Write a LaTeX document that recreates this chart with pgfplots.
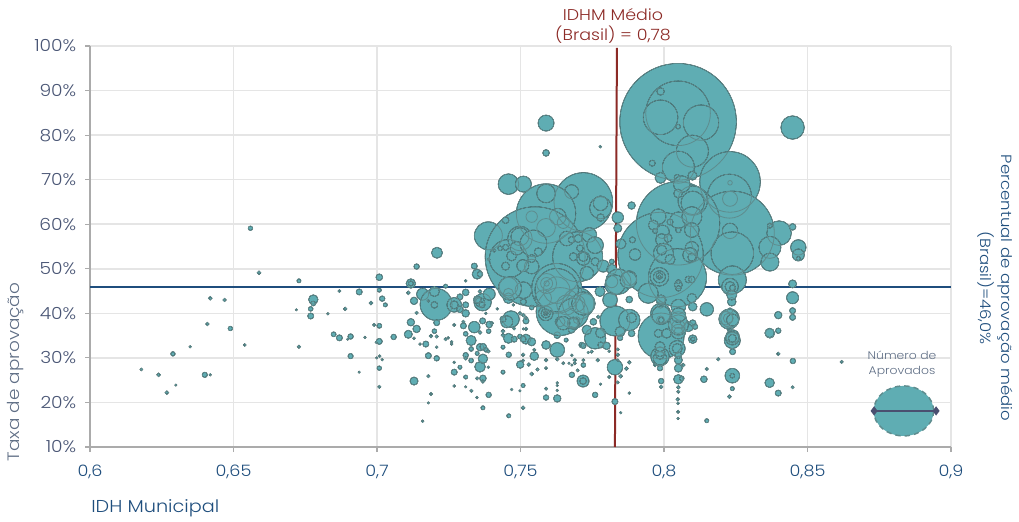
\documentclass[border=0pt]{standalone}
\usepackage{fontspec}
\setmainfont{Poppins Light}[FakeStretch=1.12]
\usepackage{pgfplots}
\usepackage{pgfplotstable}
\pgfplotsset{compat=1.18}
\definecolor{bub}{HTML}{5FADB3}
\definecolor{bubline}{HTML}{5E8C8E}
\definecolor{gridc}{HTML}{E5E5E5}
\definecolor{axisc}{HTML}{ABABAB}
\definecolor{navy}{HTML}{1F4E7D}
\definecolor{slate}{HTML}{4A5675}
\definecolor{slateb}{HTML}{5F6E85}
\definecolor{redl}{HTML}{8C2A26}
\definecolor{dia}{HTML}{4A4F70}
\pgfplotstableread{
x y r
0.8049 83.0 58.3
0.8049 84.9 32.3
0.7988 84.0 17.3
0.8129 82.8 17.7
0.7988 89.8 3.7
0.8049 81.9 2.3
0.8099 76.4 16
0.8050 72.8 16
0.7959 73.7 3
0.7988 70.4 5.5
0.8099 70.9 4.5
0.8046 70.5 3
0.8230 69.5 30.3
0.8230 65.7 7.5
0.8230 69.3 2.3
0.8228 66.3 22
0.8238 58.0 42
0.8230 58.5 7.7
0.8238 53.5 21.3
0.8049 60.2 41.7
0.8100 65.3 14.7
0.8100 64.8 11.7
0.8062 69.0 8.3
0.8049 66.9 4.3
0.7988 53.1 42.7
0.8047 48.0 29
0.8401 58.0 12.3
0.8369 54.8 11
0.8369 51.5 9
0.8448 59.4 3.3
0.8468 54.8 7.7
0.8468 53.1 6
0.8468 52.3 2
0.8369 59.7 2.5
0.8448 46.6 4
0.8448 81.7 11.7
0.8238 47.5 14
0.7589 82.7 8
0.7589 76.0 3.3
0.7778 77.4 1.2
0.7458 69.0 10.3
0.7510 69.0 8
0.7719 65.0 29.3
0.7678 67.3 7
0.7779 63.7 11
0.7779 64.7 7.3
0.7779 61.5 3.7
0.7589 62.4 29.7
0.7589 66.9 9.3
0.7589 59.2 9.3
0.7539 61.7 5.7
0.7630 61.7 8.3
0.7649 60.4 6
0.7388 57.4 14
0.7551 52.7 50
0.7458 52.3 19
0.7498 56.8 12.3
0.7498 57.2 9
0.7448 60.9 3.3
0.7539 50.5 7.3
0.7508 50.7 6
0.7469 52.9 5
0.7487 54.6 6.7
0.7448 50.6 4
0.7545 55.7 13.3
0.7562 53.8 4
0.7539 52.3 4
0.7429 54.6 2.3
0.7448 54.8 3
0.7408 54.1 1.7
0.7389 52.1 1.3
0.7699 52.7 25
0.7626 45.6 25
0.7740 57.6 7.3
0.7661 56.8 7.3
0.7760 55.3 8.3
0.7719 52.3 6.7
0.7719 52.7 4.7
0.7707 54.6 3.3
0.7684 52.7 4
0.7678 56.5 3.3
0.7701 56.8 4
0.7731 49.0 6.7
0.7760 51.6 4
0.7788 50.6 6
0.7818 51.6 2.5
0.7818 49.9 5
0.7839 61.5 5.7
0.7839 59.1 4
0.7887 64.2 3.7
0.7850 55.6 5
0.7890 56.5 3
0.7899 53.2 5.7
0.7339 50.6 3
0.7349 48.8 5
0.7359 48.8 2.7
0.7309 47.3 1.2
0.7209 53.6 5.5
0.7841 47.1 12.7
0.7818 47.1 6
0.7879 47.9 7.3
0.7980 61.7 7.7
0.7963 59.8 5
0.7995 58.3 6.7
0.8050 60.9 8.3
0.8097 61.7 10
0.8097 58.7 7.3
0.7992 56.5 6
0.7998 53.5 10
0.8021 52.1 5
0.7992 54.2 5
0.8097 54.6 6.7
0.8091 53.1 7.3
0.8097 52.6 4
0.8050 58.7 2.7
0.8021 60.5 3
0.8014 56.9 4
0.7969 58.5 2.5
0.7984 48.2 9.3
0.7984 48.2 6
0.7984 48.4 3.3
0.7984 48.2 1.7
0.8050 46.4 4
0.8050 45.6 2.7
0.8050 47.1 2
0.8085 47.6 3.3
0.8097 47.6 3.3
0.7945 44.5 10
0.7988 43.0 4.7
0.7988 41.9 3.3
0.8050 41.5 7.3
0.8097 43.4 4.7
0.8100 41.5 4.3
0.8149 40.9 6.7
0.7879 43.1 3.3
0.7988 40.0 10
0.7988 38.5 4
0.8050 38.5 8.3
0.8050 37.0 6.7
0.8050 35.9 4.3
0.8085 37.0 5
0.8100 37.8 3.3
0.8108 37.0 2.7
0.7990 34.9 23
0.8230 38.9 9.3
0.8224 38.9 5
0.8230 40.6 2.7
0.8398 39.6 3.7
0.8369 35.5 4.7
0.8398 36.1 2.7
0.8239 34.8 6.7
0.8236 42.6 4.3
0.8230 46.0 8.3
0.8230 46.0 5
0.8236 44.1 5
0.8239 45.7 3
0.7118 46.7 4.7
0.7118 46.7 2.5
0.7109 44.6 1.8
0.7239 46.1 2
0.7129 42.8 3.7
0.7159 44.3 6
0.7206 42.0 16
0.7200 44.9 5
0.7200 41.9 3.3
0.7179 42.8 1.3
0.7289 43.7 3
0.7309 44.7 3.3
0.7309 41.9 3
0.7269 41.9 7.3
0.7269 41.9 4
0.7289 40.9 3.3
0.7309 40.0 3.7
0.7138 40.1 1.5
0.7208 37.9 3
0.7118 38.0 3.7
0.7138 36.5 3.7
0.7109 35.3 4
0.7129 34.4 1.2
0.7170 33.1 3
0.7150 33.1 1.2
0.7188 34.9 1.7
0.7200 36.0 2.3
0.7208 34.8 1.5
0.7239 34.2 1.5
0.7248 34.5 1.2
0.7208 32.4 1.2
0.7260 33.6 1.2
0.7260 33.1 1.2
0.7179 30.5 3
0.7208 29.9 2.7
0.7269 37.4 1.5
0.7301 37.2 3
0.7301 38.1 1.5
0.7339 36.9 5.7
0.7359 35.7 1.7
0.7309 35.4 2.3
0.7328 33.9 5
0.7328 32.0 2.3
0.7309 30.6 2.7
0.7309 29.9 1.7
0.7328 29.4 2.3
0.7269 29.0 1.2
0.7289 27.9 2
0.7269 26.8 3
0.7309 25.7 2
0.7359 28.0 5.3
0.7369 29.8 4.7
0.7349 31.0 2
0.7359 32.4 3.7
0.7370 32.5 3.3
0.7380 31.8 2.3
0.7388 31.5 1.7
0.7388 27.9 1.2
0.7369 25.4 3.3
0.7349 25.4 1.5
0.7369 24.7 1.7
0.7179 25.9 1.5
0.7129 24.8 4
0.7269 23.7 1.2
0.7309 23.5 1
0.7329 22.6 1.5
0.7188 21.9 1.5
0.7348 21.1 1.2
0.7389 21.7 2.7
0.7179 19.9 1
0.7369 18.8 2
0.7159 15.8 1.2
0.7459 17.0 2
0.7509 18.8 1.8
0.7469 22.9 1.1
0.7498 22.6 1
0.7509 23.8 2
0.7439 26.8 2
0.7459 30.7 2.7
0.7439 32.4 2
0.7499 28.5 3.7
0.7509 30.7 1.7
0.7509 29.4 1.4
0.7529 28.5 1.7
0.7539 26.4 1.8
0.7559 27.4 1.5
0.7548 30.4 4.3
0.7548 31.8 1.5
0.7589 29.5 1.7
0.7589 27.7 1.4
0.7628 24.4 1.1
0.7628 23.8 1.1
0.7628 22.7 1.1
0.7589 23.1 1.5
0.7589 21.1 2.7
0.7628 20.9 3.7
0.7679 26.2 2.7
0.7718 24.8 6
0.7718 24.8 3.3
0.7760 21.7 2.7
0.7779 24.1 1.1
0.7809 25.7 1.5
0.7849 25.9 1.8
0.7839 24.5 1.4
0.7879 22.1 1.2
0.7829 20.2 3
0.7849 17.7 1.1
0.7829 27.9 7.7
0.7839 31.9 1.4
0.7839 30.7 1.7
0.7839 29.5 1.2
0.7809 31.5 1.2
0.7869 27.6 1.8
0.7879 29.0 1.7
0.7769 29.5 1.7
0.7719 28.4 2.3
0.7719 29.5 1.4
0.7699 27.2 1.4
0.7689 29.5 1.7
0.7689 28.8 1.4
0.7679 28.4 1
0.7649 28.8 1.4
0.7669 28.8 1
0.7679 30.6 1.2
0.7628 31.8 7.3
0.7628 29.7 1.7
0.7589 32.9 4.3
0.7659 34.0 2
0.7628 35.1 3.3
0.7467 38.7 8.3
0.7452 38.1 6
0.7439 38.7 3
0.7478 36.6 1.4
0.7439 36.0 1.8
0.7439 35.1 1.8
0.7458 34.4 5
0.7478 34.2 3
0.7498 34.8 2.3
0.7519 34.2 5
0.7509 34.2 3
0.7539 33.6 4
0.7519 38.3 3
0.7519 39.0 1.7
0.7498 40.0 1.7
0.7510 39.6 1.7
0.7519 36.5 1.7
0.7510 36.5 1
0.7419 41.0 1.2
0.7368 38.3 3
0.7391 37.5 3.3
0.7400 37.8 1.7
0.7389 36.0 2.3
0.7379 40.0 1.2
0.7368 42.5 8.7
0.7359 42.5 4.7
0.7352 43.0 3
0.7366 41.9 3
0.7391 44.3 6
0.7359 44.9 1.8
0.7349 43.1 3.7
0.7458 43.4 5.3
0.7458 44.5 5
0.7510 42.6 3
0.7539 41.3 2.3
0.7475 41.9 1.2
0.7638 40.4 24
0.7588 40.0 7.3
0.7588 40.0 4.7
0.7588 40.0 2.3
0.7588 40.0 1.3
0.7638 38.1 5
0.7684 37.8 5
0.7696 38.5 3.3
0.7661 41.9 10
0.7696 42.2 8.3
0.7725 42.2 10
0.7701 42.2 15.7
0.7591 46.7 10
0.7591 46.7 6
0.7591 46.7 2.7
0.7579 43.4 8.3
0.7626 45.2 13.3
0.7510 45.2 8.3
0.7458 46.0 9.3
0.7626 45.2 21.7
0.7463 45.6 11.7
0.7829 38.3 15
0.7879 38.5 10.7
0.7887 39.0 5
0.7847 35.9 5
0.7887 35.5 3.3
0.7847 34.5 2.7
0.7829 46.4 10
0.7876 47.5 8.3
0.7812 43.0 7.3
0.7777 44.9 5
0.7760 34.4 10.7
0.7731 36.3 4.7
0.7754 38.1 3.3
0.7771 39.2 1.7
0.7779 35.6 5
0.7780 32.9 3
0.7678 36.3 3.3
0.7713 32.9 2.7
0.7719 32.7 2.7
0.7748 31.4 1.5
0.7736 31.2 1
0.7800 32.7 3.7
0.7684 40.0 15
0.7719 42.2 11.7
0.7684 37.8 6
0.7649 37.8 6.7
0.8050 27.7 4
0.8050 25.2 4.7
0.8050 29.5 4
0.8046 32.1 8
0.8046 32.1 5
0.8050 30.6 3.3
0.8050 35.9 7.3
0.8050 37.4 10
0.8050 39.6 7.3
0.8100 34.2 4.3
0.8100 34.2 2
0.8067 28.4 1.7
0.8062 25.4 2.3
0.8050 23.4 1.7
0.8050 22.4 1.5
0.8048 20.7 1.7
0.8049 19.8 1.2
0.8049 17.9 1.5
0.8049 16.4 1.1
0.7990 24.8 2.7
0.7990 23.5 1.7
0.7986 30.3 9.3
0.7986 29.9 6.7
0.7986 30.6 4
0.7986 31.4 5
0.7980 35.5 4
0.8009 35.5 4.7
0.7986 32.5 5
0.7986 27.7 2.7
0.7969 28.4 1.7
0.7990 39.6 9.3
0.7990 38.5 2.7
0.7990 43.0 5
0.8189 29.7 1.5
0.8149 27.5 1.5
0.8139 25.2 3.3
0.8149 15.9 2
0.8216 38.9 6.7
0.8238 26.0 7.3
0.8238 26.0 2.3
0.8238 23.1 2
0.8228 21.3 1.8
0.8239 31.4 3
0.8238 33.9 8
0.8238 34.4 6.7
0.8238 34.4 4
0.8228 36.6 2.7
0.8226 38.7 10
0.8239 38.5 6
0.8368 24.4 4.7
0.8368 35.6 4.7
0.8449 29.3 2.7
0.8398 30.9 1.7
0.8398 22.1 3
0.8448 23.4 1.4
0.8448 43.5 6
0.8448 40.6 3
0.8448 39.1 3
0.8619 29.1 1.5
0.6559 59.1 2.2
0.6589 49.1 1.8
0.6728 47.3 2
0.6419 43.4 1.8
0.6469 43.0 1.6
0.6409 37.6 1.7
0.6489 36.6 2.2
0.6349 32.5 1.1
0.6539 32.9 1.3
0.6728 32.5 1.6
0.6289 30.9 2.2
0.6179 27.4 1.3
0.6239 26.2 1.8
0.6400 26.2 2.6
0.6419 26.2 1.1
0.6299 23.9 1
0.6268 22.2 1.8
0.6778 43.1 4.7
0.6778 42.2 2.3
0.6769 41.0 2.3
0.6769 39.4 3
0.6719 40.8 1
0.6829 39.9 1.1
0.6869 45.0 1.4
0.6889 41.0 1.7
0.6938 44.8 3
0.6979 42.3 1.8
0.7008 48.1 3.3
0.7008 45.2 2
0.7018 43.3 2.7
0.7029 41.9 2
0.7138 50.5 2.7
0.6990 37.4 1.5
0.7008 37.2 2.4
0.7058 34.7 2.7
0.7008 33.7 3
0.6997 33.5 1
0.6958 34.6 1.1
0.6908 34.8 2.7
0.6898 34.2 1
0.6869 34.5 3
0.6849 35.3 2.4
0.6908 30.4 2.6
0.7009 30.4 1.3
0.6999 30.0 1
0.7018 29.6 1.1
0.7008 27.7 2.2
0.6938 26.8 1
0.7008 23.5 1.5
}\bubbles
\newcommand{\px}[2]{({#1*0.75pt},{(521-#2)*0.75pt})}
\begin{document}
\begin{tikzpicture}
\path[use as bounding box] (0,0) rectangle (764.25pt,390.75pt);
\begin{axis}[
  at={(67.5pt,55.5pt)},anchor=south west,
  scale only axis,width=645.75pt,height=300.75pt,
  xmin=0.6,xmax=0.9,ymin=10,ymax=100,
  axis lines*=left,axis line style={draw=axisc,line width=1pt,-},
  grid=major,grid style={draw=gridc,line width=1.2pt},
  tick align=outside,major tick length=3.75pt,
  tick style={draw=axisc,line width=0.8pt},
  xtick={0.6,0.65,0.7,0.75,0.8,0.85,0.9},
  xticklabels={{0,6},{0,65},{0,7},{0,75},{0,8},{0,85},{0,9}},
  ytick={10,20,30,40,50,60,70,80,90,100},
  yticklabels={10\%,20\%,30\%,40\%,50\%,60\%,70\%,80\%,90\%,100\%},
  xticklabel style={font=\fontsize{11.8pt}{14pt}\selectfont,text=navy,yshift=-6.5pt},
  yticklabel style={font=\fontsize{12.5pt}{14pt}\selectfont,text=slate,xshift=-3pt},
  clip=false,
]
\addplot[scatter,only marks,mark=*,scatter/use mapped color={draw=none,fill=bub},
  visualization depends on={\thisrow{r} \as \rr},
  scatter/@pre marker code/.append style={/tikz/mark size=0.75*\rr}]
  table[x=x,y=y] {\bubbles};
\addplot[scatter,only marks,mark=o,scatter/use mapped color={draw=bubline,line width=0.6pt},
  visualization depends on={\thisrow{r} \as \rr},
  scatter/@pre marker code/.append style={/tikz/mark size=0.75*\rr}]
  table[x=x,y=y] {\bubbles};
\addplot[navy,line width=1.5pt] coordinates {(0.6,46) (0.9,46)};
\addplot[redl,line width=1.5pt] coordinates {(0.7836,99.6) (0.7829,10)};
\draw[fill=bub,draw=bubline,line width=1.1pt,dash pattern=on 4pt off 3pt] (axis cs:0.8835,18.1) ellipse [x radius=22.5pt,y radius=18.75pt];
\addplot[dia,line width=1.1pt,mark=diamond*,mark size=2.6pt,mark options={fill=dia}] coordinates {(0.8732,18.1) (0.8948,18.1)};
\end{axis}
\node[text=redl,align=center,font=\fontsize{11.7pt}{14.6pt}\selectfont] at \px{613}{26} {IDHM Médio\\(Brasil) = 0,78};
\node[text=navy,anchor=west,font=\fontsize{12.9pt}{15pt}\selectfont,inner sep=0pt] at \px{91}{508} {IDH Municipal};
\node[text=slateb,rotate=90,font=\fontsize{12.35pt}{15pt}\selectfont] at \px{16}{372} {Taxa de aprovação};
\node[text=navy,rotate=-90,align=center,font=\fontsize{11.05pt}{15.75pt}\selectfont] at \px{995}{288} {Percentual de aprovação médio\\(Brasil)=46,0\%};
\node[text=slateb,align=center,font=\fontsize{8.3pt}{11.25pt}\selectfont] at \px{902}{364} {Número de\\Aprovados};
\end{tikzpicture}
\end{document}
